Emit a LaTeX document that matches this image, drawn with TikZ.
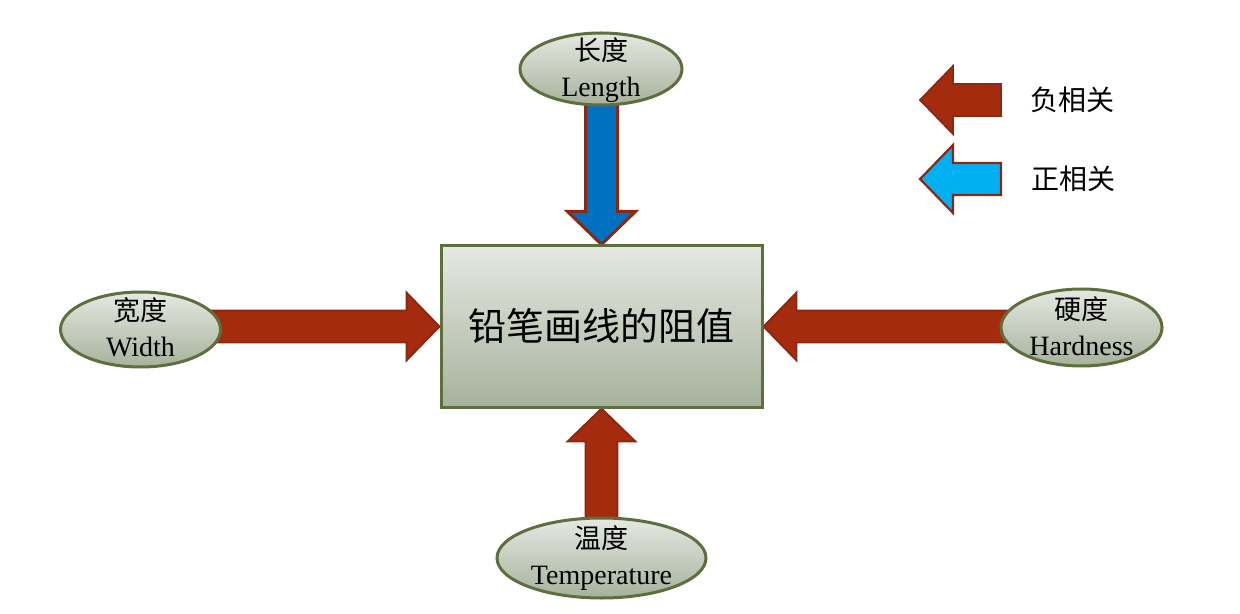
\documentclass[tikz,border=0pt]{standalone}
\usepackage{fontspec}
\setmainfont{Liberation Serif}
\newfontfamily\cjk{Noto Sans CJK SC}
\usetikzlibrary{shapes.geometric,calc}
\pgfdeclarelayer{bg}
\pgfsetlayers{bg,main}
\definecolor{boxtop}{HTML}{E6E8E2}
\definecolor{boxbot}{HTML}{A6B29C}
\definecolor{olive}{HTML}{5E6F3E}
\definecolor{arrred}{HTML}{A52B0E}
\definecolor{arredge}{HTML}{8A2812}
\definecolor{arrblue}{HTML}{0070C0}
\definecolor{arrcyan}{HTML}{00B0F0}
\tikzset{
  factor/.style={ellipse, draw=olive, line width=1.5pt, top color=boxtop, bottom color=boxbot, inner sep=0pt},
  ftext/.style={align=center, font=\fontsize{14}{18}\selectfont, inner sep=0pt},
  mainbox/.style={rectangle, draw=olive, line width=1.5pt, top color=boxtop, bottom color=boxbot,
    minimum width=160.5pt, minimum height=80.5pt, inner sep=0pt, font=\cjk\fontsize{19}{22}\selectfont},
  negarrow/.style={fill=arrred, draw=arredge, line width=0.9pt, line join=miter},
  posarrow/.style={fill=arrblue, draw=arredge, line width=1.5pt, line join=miter},
  cyanarrow/.style={fill=arrcyan, draw=arredge, line width=1.1pt, line join=miter},
  legtext/.style={font=\cjk\fontsize{14}{16}\selectfont, inner sep=0pt}
}
\newcommand\fatarrow[3]{%
  \coordinate (fah) at ($(#3)!16.5pt!(#2)$);
  \path[#1] ($(#2)!8pt!90:(#3)$) -- ($(fah)!8pt!90:(#3)$) -- ($(fah)!17pt!90:(#3)$) -- (#3)
    -- ($(fah)!17pt!-90:(#3)$) -- ($(fah)!8pt!-90:(#3)$) -- ($(#2)!8pt!-90:(#3)$) -- cycle;}
\begin{document}
\begin{tikzpicture}[x=0.5pt,y=-0.5pt]
\useasboundingbox (0,0) rectangle (1240,614);
% main box
\node[mainbox] (box) at (601.5,326.5) {铅笔画线的阻值};
% factor ellipses
\node[factor, minimum width=81pt, minimum height=36pt] (len) at (601,69) {};
\node[factor, minimum width=80pt, minimum height=37.5pt] (wid) at (140.5,329.5) {};
\node[factor, minimum width=80.5pt, minimum height=38.5pt] (hard) at (1081.5,327.5) {};
\node[factor, minimum width=104.5pt, minimum height=40pt] (temp) at (601.5,558) {};
\node[ftext] (lenT) at (601,70) {{\cjk\fontsize{13.5}{18}\selectfont 长度}\\Length};
\node[ftext] (widT) at (140.5,327) {{\cjk\fontsize{13.5}{18}\selectfont 宽度}\\Width};
\node[ftext] (hardT) at (1081.5,326) {{\cjk\fontsize{13.5}{18}\selectfont 硬度}\\Hardness};
\node[ftext] (tempT) at (601.5,558) {{\cjk\fontsize{13.5}{18}\selectfont 温度}\\Temperature};
% legend
\coordinate (lgAend) at (1001,100);
\coordinate (lgAtip) at (920,100);
\coordinate (lgBend) at (1001,179);
\coordinate (lgBtip) at (920,179);
\node[legtext] (lgAtext) at (1072,100) {负相关};
\node[legtext] (lgBtext) at (1073,179) {正相关};
\coordinate (lenA) at (box.north |- len);
\coordinate (widA) at (wid |- box.west);
\coordinate (hardA) at (hard |- box.east);
\coordinate (tempA) at (box.south |- temp);
\begin{pgfonlayer}{bg}
\fatarrow{posarrow}{lenA}{box.north}
\fatarrow{negarrow}{widA}{box.west}
\fatarrow{negarrow}{hardA}{box.east}
\fatarrow{negarrow}{tempA}{box.south}
\end{pgfonlayer}
\fatarrow{negarrow}{lgAend}{lgAtip}
\fatarrow{cyanarrow}{lgBend}{lgBtip}
\end{tikzpicture}
\end{document}
